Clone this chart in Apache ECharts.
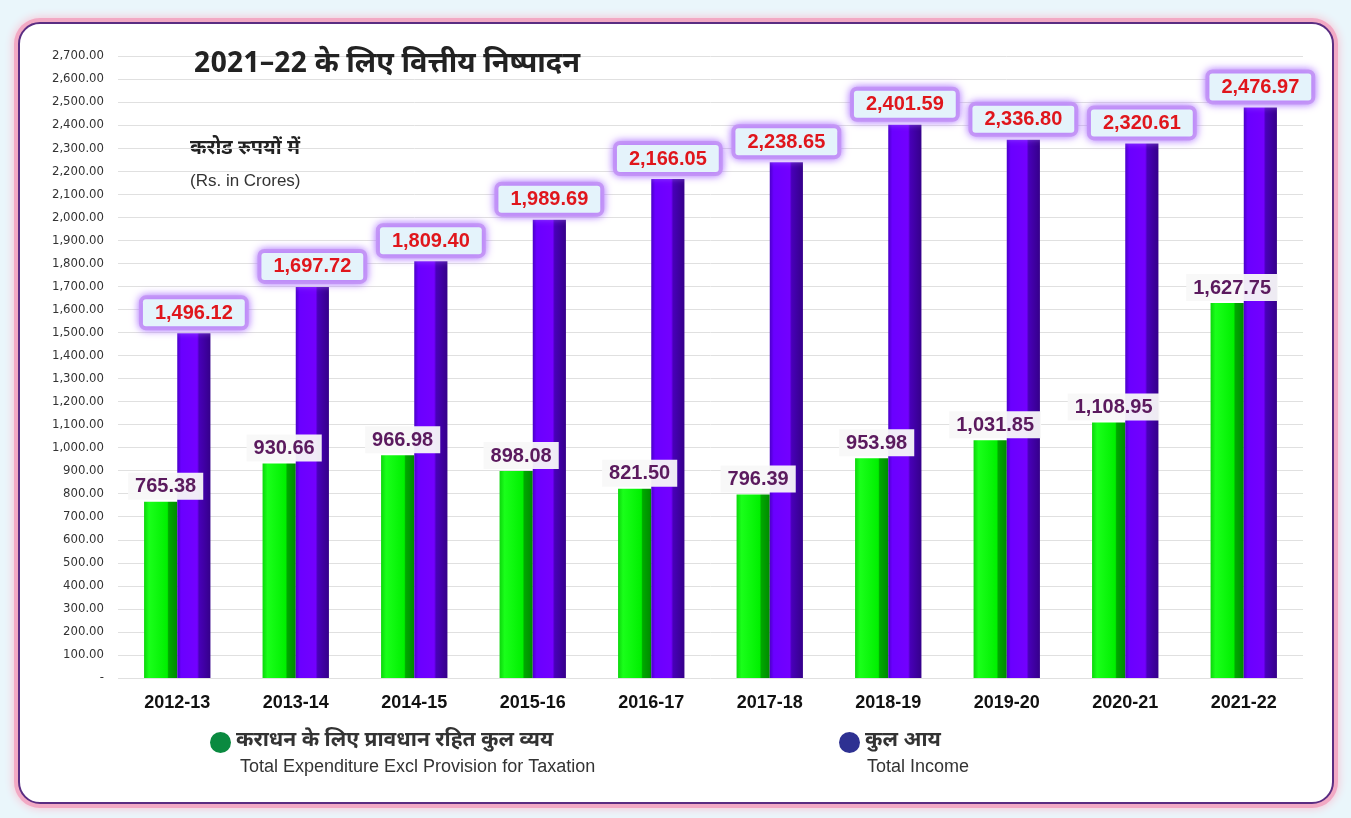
<!DOCTYPE html>
<html>
<head>
<meta charset="utf-8">
<script src="https://cdn.jsdelivr.net/npm/echarts@6/dist/echarts.min.js"></script>
<style>
  html, body { margin: 0; padding: 0; background: #eaf6fb; }
  #card {
    position: absolute; left: 18px; top: 22px; width: 1312px; height: 778px;
    background: #fff; border: 2px solid #5a2d82; border-radius: 22px;
    box-shadow: 0 0 0 4px #f2a9c4, 0 0 8px 5px #f7c6d6;
  }
  #chart { position: absolute; left: 0; top: 0; width: 1351px; height: 818px; }
</style>
</head>
<body>
<div id="card"></div>
<div id="chart"></div>
<script>
const years = ['2012-13', '2013-14', '2014-15', '2015-16', '2016-17', '2017-18', '2018-19', '2019-20', '2020-21', '2021-22'];
const expenditure = [765.38, 930.66, 966.98, 898.08, 821.50, 796.39, 953.98, 1031.85, 1108.95, 1627.75];
const income = [1496.12, 1697.72, 1809.40, 1989.69, 2166.05, 2238.65, 2401.59, 2336.80, 2320.61, 2476.97];

const expName = 'कराधन के लिए प्रावधान रहित कुल व्यय';
const incName = 'कुल आय';

const hindiFont = "'Noto Sans Devanagari', 'Lohit Devanagari', 'Liberation Sans', sans-serif";
const latin = "'Liberation Sans', Arial, sans-serif";
const fmt = v => v.toLocaleString('en-US', { minimumFractionDigits: 2, maximumFractionDigits: 2 });

const chart = echarts.init(document.getElementById('chart'), null, { renderer: 'canvas' });

const option = {
  backgroundColor: 'transparent',
  animation: false,
  title: {
    text: '2021–22 के लिए वित्तीय निष्पादन',
    left: 189,
    top: 47,
    textStyle: { fontFamily: hindiFont, fontSize: 29, fontWeight: 'bold', color: '#222' }
  },
  graphic: [
    { type: 'text', left: 190, top: 140, style: { text: 'करोड रुपयों में', font: "bold 20px " + hindiFont, fill: '#222' } },
    { type: 'text', left: 190, top: 173, style: { text: '(Rs. in Crores)', font: "17px " + latin, fill: '#333' } },
    { type: 'text', left: 240, top: 758, style: { text: 'Total Expenditure Excl Provision for Taxation', font: "18px " + latin, fill: '#333' } },
    { type: 'text', left: 867, top: 758, style: { text: 'Total Income', font: "18px " + latin, fill: '#333' } }
  ],
  legend: [
    {
      data: [{ name: expName, itemStyle: { color: '#0a8a40' } }],
      left: 205, top: 727, icon: 'circle', itemWidth: 21, itemHeight: 21, itemGap: 8,
      textStyle: { fontFamily: hindiFont, fontSize: 21, fontWeight: 'bold', color: '#333' }
    },
    {
      data: [{ name: incName, itemStyle: { color: '#2e3192' } }],
      left: 834, top: 727, icon: 'circle', itemWidth: 21, itemHeight: 21, itemGap: 8,
      textStyle: { fontFamily: hindiFont, fontSize: 21, fontWeight: 'bold', color: '#333' }
    }
  ],
  grid: { left: 118, right: 48, top: 56, bottom: 140 },
  xAxis: {
    type: 'category',
    data: years,
    axisLine: { show: false },
    axisTick: { show: false },
    axisLabel: { margin: 16, fontFamily: latin, fontSize: 18, fontWeight: 'bold', color: '#111' }
  },
  yAxis: {
    type: 'value',
    min: 0,
    max: 2700,
    interval: 100,
    axisLine: { show: false },
    axisTick: { show: false },
    axisLabel: {
      margin: 14,
      fontFamily: "'DejaVu Sans Condensed', 'Liberation Sans Narrow', sans-serif",
      fontSize: 13,
      color: '#333',
      formatter: v => (v === 0 ? '-' : fmt(v))
    },
    splitLine: { lineStyle: { color: '#e0e0e0', width: 1 } }
  },
  series: [
    {
      name: expName,
      type: 'bar',
      data: expenditure,
      barGap: '0%',
      barCategoryGap: '44%',
      itemStyle: {
        color: new echarts.graphic.LinearGradient(0, 0, 1, 0, [
          { offset: 0, color: '#0cd60c' },
          { offset: 0.15, color: '#1aff1a' },
          { offset: 0.7, color: '#00f000' },
          { offset: 0.74, color: '#00a800' },
          { offset: 1, color: '#008a00' }
        ])
      },
      label: {
        show: true,
        position: 'top',
        distance: 2,
        offset: [5, 0],
        formatter: p => fmt(p.value),
        fontFamily: latin,
        fontSize: 20,
        fontWeight: 'bold',
        color: '#5b1a5e',
        backgroundColor: 'rgba(248,248,248,0.95)',
        padding: [4, 7, 3, 7]
      }
    },
    {
      name: incName,
      type: 'bar',
      data: income,
      itemStyle: {
        color: new echarts.graphic.LinearGradient(0, 0, 1, 0, [
          { offset: 0, color: '#4a00c8' },
          { offset: 0.12, color: '#6a00ff' },
          { offset: 0.6, color: '#7300ff' },
          { offset: 0.66, color: '#4800b8' },
          { offset: 1, color: '#35008a' }
        ])
      },
      label: {
        show: true,
        position: 'top',
        distance: 7,
        formatter: p => fmt(p.value),
        fontFamily: latin,
        fontSize: 20,
        fontWeight: 'bold',
        color: '#e0161c',
        backgroundColor: '#e4f3fb',
        borderColor: '#c89bf5',
        borderWidth: 4,
        borderRadius: 3,
        shadowColor: '#b27cff',
        shadowBlur: 8,
        padding: [4, 12, 3, 12]
      }
    }
  ]
};

chart.setOption(option);
</script>
</body>
</html>
